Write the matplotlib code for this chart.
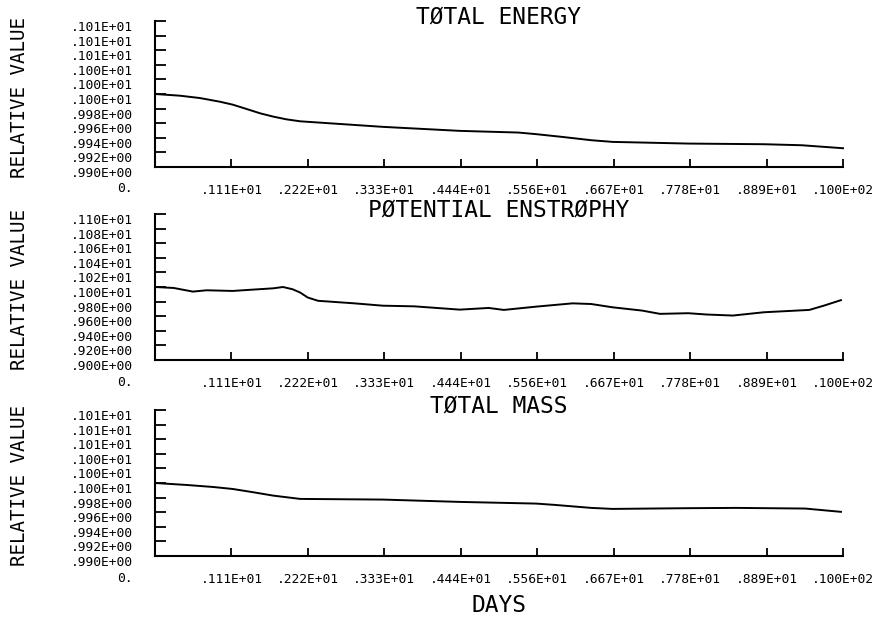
import matplotlib
matplotlib.use('Agg')
import matplotlib.pyplot as plt
import matplotlib.transforms as mtransforms

plt.rcParams['font.family'] = ['DejaVu Sans Mono', 'DejaVu Sans']

# values (days, relative value)
energy_days = [0.0, 0.36, 0.65, 0.94, 1.13, 1.33, 1.53, 1.72, 1.91, 2.11,
               3.31, 4.43, 5.28, 5.54, 5.91, 6.34, 6.65, 7.75, 8.85, 9.40, 10.0]
energy = [1.0000, 0.99977, 0.99945, 0.99895, 0.99854, 0.99795, 0.99735, 0.99690,
          0.99653, 0.99626, 0.99550, 0.99495, 0.99472, 0.99450, 0.99413, 0.99367,
          0.99344, 0.99321, 0.99312, 0.99298, 0.99257]

enstrophy_days = [0.0, 0.27, 0.55, 0.75, 1.13, 1.42, 1.72, 1.86, 2.0, 2.11,
                  2.22, 2.37, 2.9, 3.31, 3.77, 4.43, 4.85, 5.07, 5.54, 6.07,
                  6.34, 6.65, 7.08, 7.34, 7.75, 8.02, 8.40, 8.85, 9.14, 9.51,
                  9.72, 9.97]
enstrophy = [1.000, 0.9987, 0.9937, 0.9955, 0.9946, 0.9964, 0.9982, 1.0000,
             0.9969, 0.9924, 0.9856, 0.9811, 0.9776, 0.9744, 0.9735, 0.9690,
             0.9713, 0.9686, 0.9731, 0.9776, 0.9767, 0.9722, 0.9677, 0.9632,
             0.9641, 0.9623, 0.9609, 0.9654, 0.9668, 0.9686, 0.9744, 0.9820]

mass_days = [0.0, 0.46, 0.85, 1.13, 1.43, 1.72, 2.11, 3.31, 4.43, 5.54,
             5.81, 6.34, 6.65, 7.75, 8.45, 9.45, 9.97]
mass = [1.0000, 0.99973, 0.99945, 0.99918, 0.99873, 0.99827, 0.99782, 0.99773,
        0.99741, 0.99718, 0.99700, 0.99659, 0.99645, 0.99655, 0.99659, 0.99650,
        0.99605]

x_ticks = [10 / 9 * k for k in range(1, 10)]
x_labels = ['.111E+01', '.222E+01', '.333E+01', '.444E+01', '.556E+01',
            '.667E+01', '.778E+01', '.889E+01', '.100E+02']

small_ticks = [0.990 + 0.002 * k for k in range(11)]
small_labels = ['.990E+00', '.992E+00', '.994E+00', '.996E+00', '.998E+00',
                '.100E+01', '.100E+01', '.100E+01', '.101E+01', '.101E+01', '.101E+01']
big_ticks = [0.90 + 0.02 * k for k in range(11)]
big_labels = ['.900E+00', '.920E+00', '.940E+00', '.960E+00', '.980E+00',
              '.100E+01', '.102E+01', '.104E+01', '.106E+01', '.108E+01', '.110E+01']

panels = [
    ('T\u00d8TAL ENERGY', energy_days, energy, (0.990, 1.010), small_ticks, small_labels),
    ('P\u00d8TENTIAL ENSTR\u00d8PHY', enstrophy_days, enstrophy, (0.90, 1.10), big_ticks, big_labels),
    ('T\u00d8TAL MASS', mass_days, mass, (0.990, 1.010), small_ticks, small_labels),
]

W, H = 874, 623
fig = plt.figure(figsize=(W / 100, H / 100), dpi=100)
left_px, right_px = 155, 843
tops_px = [21, 214, 410]
panel_h = 146

down = mtransforms.ScaledTranslation(0, -0.05, fig.dpi_scale_trans)
lab_size = 9.3

for (title, xd, yd, ylim, yt, yl), top in zip(panels, tops_px):
    ax = fig.add_axes([left_px / W, 1 - (top + panel_h) / H,
                       (right_px - left_px) / W, panel_h / H])
    ax.plot(xd, yd, color='black', lw=1.4, clip_on=False)
    ax.set_xlim(0, 10)
    ax.set_ylim(*ylim)
    for s in ('top', 'right'):
        ax.spines[s].set_visible(False)
    for s in ('left', 'bottom'):
        ax.spines[s].set_linewidth(1.5)
    ax.set_xticks(x_ticks)
    ax.set_xticklabels(x_labels)
    ax.set_yticks(yt)
    ax.set_yticklabels(yl)
    ax.tick_params(axis='y', direction='in', length=8, width=1.3, pad=16, labelsize=lab_size)
    ax.tick_params(axis='x', direction='in', length=6, width=1.3, pad=12.5, labelsize=lab_size)
    for lbl in ax.get_yticklabels():
        lbl.set_transform(lbl.get_transform() + down)
    ax.annotate('0.', xy=(0, 0), xycoords='axes fraction', xytext=(-22, -22),
                textcoords='offset pixels', ha='right', va='center', fontsize=lab_size)
    ax.text(0.5, 1.0, title, transform=ax.transAxes + mtransforms.ScaledTranslation(
        0, 0.035, fig.dpi_scale_trans), ha='center', va='center', fontsize=16.5)
    fig.text(20 / W, 1 - (top + panel_h / 2 + 3) / H, 'RELATIVE VALUE',
             rotation=90, ha='center', va='center', fontsize=13.8)

fig.text(499 / W, 1 - 605 / H, 'DAYS', ha='center', va='center', fontsize=16.5)

fig.savefig('out.png', dpi=100, facecolor='white')
